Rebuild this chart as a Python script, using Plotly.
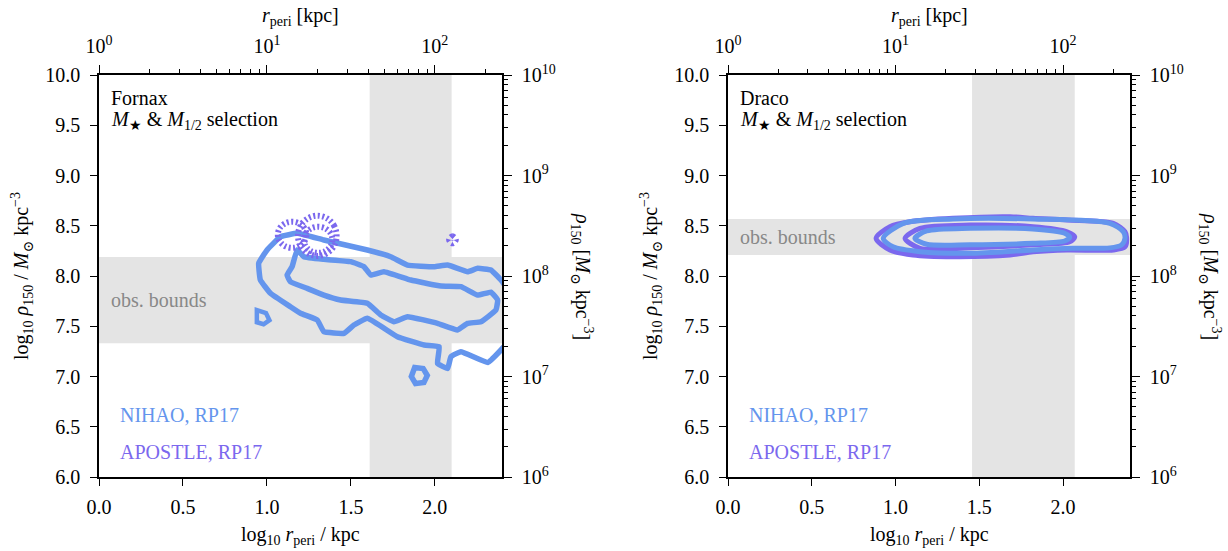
import plotly.graph_objects as go

# ---------------- data ----------------
# Fornax (left panel) – NIHAO contours (log10 r_peri, log10 rho150)
forn_nihao_outer_x = [1.18, 1.339, 1.598, 1.737, 1.837, 1.996, 2.076, 2.195, 2.255, 2.334, 2.394, 2.46, 2.46,
                      2.394, 2.315, 2.155, 2.096, 2.076, 2.016, 2.026, 1.937, 1.777, 1.598, 1.518, 1.459,
                      1.339, 1.30, 1.20, 1.14, 1.021, 0.961, 0.951, 1.001, 1.081, 1.18]
forn_nihao_outer_y = [8.425, 8.358, 8.259, 8.192, 8.109, 8.092, 8.109, 8.043, 8.076, 8.06, 7.96, 7.8, 7.4,
                      7.264, 7.14, 7.247, 7.197, 7.08, 7.13, 7.297, 7.313, 7.396, 7.579, 7.512, 7.43,
                      7.446, 7.562, 7.629, 7.694, 7.828, 7.96, 8.126, 8.259, 8.391, 8.425]
forn_nihao_inner_x = [1.18, 1.22, 1.339, 1.498, 1.578, 1.618, 1.697, 1.857, 2.036, 2.155, 2.255, 2.334, 2.374,
                      2.364, 2.275, 2.195, 2.135, 2.016, 1.837, 1.757, 1.678, 1.598, 1.439, 1.339, 1.24,
                      1.14, 1.12, 1.15, 1.18]
forn_nihao_inner_y = [8.259, 8.192, 8.166, 8.143, 8.093, 8.01, 8.043, 7.96, 7.9, 7.894, 7.81, 7.84, 7.76,
                      7.662, 7.545, 7.529, 7.463, 7.529, 7.595, 7.545, 7.612, 7.728, 7.761, 7.81, 7.877,
                      7.943, 8.01, 8.093, 8.259]
forn_nihao_blob1_x = [0.94, 0.995, 1.015, 0.98, 0.94, 0.94]
forn_nihao_blob1_y = [7.66, 7.63, 7.56, 7.52, 7.54, 7.66]
forn_nihao_blob2_x = [1.88, 1.93, 1.955, 1.935, 1.885, 1.86, 1.88]
forn_nihao_blob2_y = [7.09, 7.08, 7.01, 6.94, 6.93, 7.0, 7.09]

# Fornax – APOSTLE contours
forn_apo_ring1_x = [1.415, 1.40, 1.358, 1.30, 1.243, 1.20, 1.185, 1.20, 1.243, 1.30, 1.358, 1.40, 1.415]
forn_apo_ring1_y = [8.40, 8.50, 8.573, 8.60, 8.573, 8.50, 8.40, 8.30, 8.227, 8.20, 8.227, 8.30, 8.40]
forn_apo_ring2_x = [1.39, 1.379, 1.348, 1.305, 1.263, 1.231, 1.22, 1.231, 1.263, 1.305, 1.348, 1.379, 1.39]
forn_apo_ring2_y = [8.36, 8.425, 8.473, 8.49, 8.473, 8.425, 8.36, 8.295, 8.247, 8.23, 8.247, 8.295, 8.36]
forn_apo_ring3_x = [1.235, 1.224, 1.193, 1.15, 1.108, 1.076, 1.065, 1.076, 1.108, 1.15, 1.193, 1.224, 1.235]
forn_apo_ring3_y = [8.41, 8.475, 8.523, 8.54, 8.523, 8.475, 8.41, 8.345, 8.297, 8.28, 8.297, 8.345, 8.41]
forn_apo_dot_x = [2.125, 2.105, 2.085, 2.105, 2.125]
forn_apo_dot_y = [8.36, 8.395, 8.36, 8.325, 8.36]

# Draco (right panel)
drac_apo_outer_x = [0.884, 0.967, 1.087, 1.343, 1.684, 1.821, 2.024, 2.30, 2.37, 2.38, 2.37, 2.30, 2.024,
                    1.821, 1.684, 1.343, 1.104, 0.967, 0.884]
drac_apo_outer_y = [8.375, 8.491, 8.54, 8.574, 8.59, 8.574, 8.557, 8.524, 8.44, 8.38, 8.29, 8.259, 8.259,
                    8.24, 8.209, 8.192, 8.209, 8.259, 8.375]
drac_apo_inner_x = [1.057, 1.146, 1.445, 1.821, 2.024, 2.07, 2.04, 1.82, 1.445, 1.146, 1.057]
drac_apo_inner_y = [8.375, 8.474, 8.507, 8.49, 8.44, 8.39, 8.34, 8.31, 8.28, 8.275, 8.375]
drac_nihao_outer_x = [0.927, 1.047, 1.343, 1.821, 2.28, 2.36, 2.37, 2.35, 2.28, 2.06, 1.82, 1.445, 1.146,
                      0.985, 0.927]
drac_nihao_outer_y = [8.375, 8.524, 8.567, 8.567, 8.524, 8.44, 8.375, 8.31, 8.28, 8.275, 8.259, 8.226,
                      8.242, 8.29, 8.375]
drac_nihao_inner_x = [1.116, 1.186, 1.445, 1.82, 2.01, 2.04, 2.01, 1.82, 1.445, 1.186, 1.116]
drac_nihao_inner_y = [8.375, 8.448, 8.474, 8.468, 8.425, 8.385, 8.348, 8.325, 8.31, 8.316, 8.375]

# observational bounds
forn_rperi_bounds = [1.612, 2.10]
forn_rho_bounds = [7.33, 8.19]
drac_rperi_bounds = [1.457, 2.07]
drac_rho_bounds = [8.21, 8.567]

# tick labels
x_ticks = [0.0, 0.5, 1.0, 1.5, 2.0]
y_ticks = [6.0, 6.5, 7.0, 7.5, 8.0, 8.5, 9.0, 9.5, 10.0]
top_ticks = [1, 10, 100]
top_ticktext = ["10<sup>0</sup>", "10<sup>1</sup>", "10<sup>2</sup>"]
top_minor = [m * d for d in (1, 10, 100) for m in range(2, 10)]
right_ticks = [1e6, 1e7, 1e8, 1e9, 1e10]
right_ticktext = ["10<sup>6</sup>", "10<sup>7</sup>", "10<sup>8</sup>", "10<sup>9</sup>", "10<sup>10</sup>"]
right_minor = [m * 10 ** e for e in range(6, 10) for m in range(2, 10)]

BLUE = "#6495ED"
PURPLE = "#7B68EE"
GRAY = "#e4e4e4"
FONT = "Liberation Serif, Times New Roman, DejaVu Serif, serif"
FS = 20

W, H = 1228, 551
panels = [
    dict(x0=99, x1=502, xa="x", ya="y", xa_top="x2", ya_right="y2", name="Fornax"),
    dict(x0=728, x1=1130, xa="x3", ya="y3", xa_top="x4", ya_right="y4", name="Draco"),
]
ytop, ybot = 75, 477
ydom = [1 - ybot / H, 1 - ytop / H]

fig = go.Figure()


def line_trace(x, y, color, xa, ya, dash="solid", width=5.5, smooth=0.5):
    return go.Scatter(x=x, y=y, mode="lines", xaxis=xa, yaxis=ya,
                      line=dict(color=color, width=width, dash=dash, shape="spline", smoothing=smooth),
                      hoverinfo="skip", showlegend=False)


# Fornax
fig.add_trace(line_trace(forn_nihao_outer_x, forn_nihao_outer_y, BLUE, "x", "y", smooth=0.3))
fig.add_trace(line_trace(forn_nihao_inner_x, forn_nihao_inner_y, BLUE, "x", "y", smooth=0.3))
fig.add_trace(line_trace(forn_nihao_blob1_x, forn_nihao_blob1_y, BLUE, "x", "y", width=4.5, smooth=0))
fig.add_trace(line_trace(forn_nihao_blob2_x, forn_nihao_blob2_y, BLUE, "x", "y", smooth=0))
for rx, ry in [(forn_apo_ring1_x, forn_apo_ring1_y), (forn_apo_ring2_x, forn_apo_ring2_y),
               (forn_apo_ring3_x, forn_apo_ring3_y), (forn_apo_dot_x, forn_apo_dot_y)]:
    fig.add_trace(line_trace(rx, ry, PURPLE, "x", "y", dash="2px,2.5px", width=6, smooth=1))

# Draco
fig.add_trace(line_trace(drac_apo_outer_x, drac_apo_outer_y, PURPLE, "x3", "y3", width=5, smooth=0.8))
fig.add_trace(line_trace(drac_apo_inner_x, drac_apo_inner_y, PURPLE, "x3", "y3", width=5, smooth=0.8))
fig.add_trace(line_trace(drac_nihao_outer_x, drac_nihao_outer_y, BLUE, "x3", "y3", width=5, smooth=0.8))
fig.add_trace(line_trace(drac_nihao_inner_x, drac_nihao_inner_y, BLUE, "x3", "y3", width=5, smooth=0.8))

# invisible traces to bind overlay axes
for p in panels:
    fig.add_trace(go.Scatter(x=[10], y=[1e8], mode="markers", marker=dict(opacity=0),
                             xaxis=p["xa_top"], yaxis=p["ya_right"], hoverinfo="skip", showlegend=False))

axis_common = dict(showline=True, linecolor="black", linewidth=1.6, ticks="outside", ticklen=7,
                   tickwidth=1.4, tickcolor="black", showgrid=False, zeroline=False, automargin=False,
                   tickfont=dict(family=FONT, size=FS, color="black"))

layout = dict(width=W, height=H, margin=dict(l=0, r=0, t=0, b=0, autoexpand=False), plot_bgcolor="white",
              paper_bgcolor="white", showlegend=False, shapes=[], annotations=[])

for i, p in enumerate(panels):
    dom = [p["x0"] / W, p["x1"] / W]
    xk = "xaxis" if p["xa"] == "x" else "xaxis" + p["xa"][1:]
    yk = "yaxis" if p["ya"] == "y" else "yaxis" + p["ya"][1:]
    xtk = "xaxis" + p["xa_top"][1:]
    yrk = "yaxis" + p["ya_right"][1:]
    layout[xk] = dict(axis_common, domain=dom, anchor=p["ya"], range=[0, 2.4], tickmode="array",
                      tickvals=x_ticks, ticktext=[f"{v:.1f}" for v in x_ticks], ticklabelstandoff=4)
    layout[yk] = dict(axis_common, domain=ydom, anchor=p["xa"], range=[6, 10], tickmode="array",
                      tickvals=y_ticks, ticktext=[f"{v:.1f}" for v in y_ticks], ticklabelstandoff=6)
    layout[xtk] = dict(axis_common, overlaying=p["xa"], side="top", anchor=p["ya"], type="log",
                       range=[0, 2.4], tickmode="array", tickvals=top_ticks, ticktext=top_ticktext,
                       ticklen=8, ticklabelstandoff=4,
                       minor=dict(tickmode="array", tickvals=top_minor, ticks="outside", ticklen=4,
                                  tickwidth=1.1, tickcolor="black"))
    layout[yrk] = dict(axis_common, overlaying=p["ya"], side="right", anchor=p["xa"], type="log",
                       range=[6, 10], tickmode="array", tickvals=right_ticks, ticktext=right_ticktext,
                       ticklen=8, ticklabelstandoff=6,
                       minor=dict(tickmode="array", tickvals=right_minor, ticks="outside", ticklen=4,
                                  tickwidth=1.1, tickcolor="black"))

    rb = forn_rperi_bounds if i == 0 else drac_rperi_bounds
    db = forn_rho_bounds if i == 0 else drac_rho_bounds
    layout["shapes"].append(dict(type="rect", xref=p["xa"], yref=p["ya"], x0=rb[0], x1=rb[1], y0=6, y1=10,
                                 fillcolor=GRAY, line=dict(width=0), layer="below"))
    layout["shapes"].append(dict(type="rect", xref=p["xa"], yref=p["ya"], x0=0, x1=2.4, y0=db[0], y1=db[1],
                                 fillcolor=GRAY, line=dict(width=0), layer="below"))

    cx = (p["x0"] + p["x1"]) / 2
    f = dict(family=FONT, size=FS, color="black")
    ann = layout["annotations"]
    # axis titles
    ann.append(dict(text="log<sub>10</sub> <i>r</i><sub>peri</sub> / kpc", xref="paper", yref="paper",
                    x=cx / W, y=1 - 535 / H, showarrow=False, font=f, xanchor="center", yanchor="middle"))
    ann.append(dict(text="<i>r</i><sub>peri</sub> [kpc]", xref="paper", yref="paper",
                    x=cx / W, y=1 - 16 / H, showarrow=False, font=f, xanchor="center", yanchor="middle"))
    ann.append(dict(text="log<sub>10</sub> <i>ρ</i><sub>150</sub> / <i>M</i><sub>⊙</sub> kpc<sup>−3</sup>",
                    xref="paper", yref="paper", x=(p["x0"] - 77) / W, y=1 - 276 / H, textangle=-90,
                    showarrow=False, font=f, xanchor="center", yanchor="middle"))
    ann.append(dict(text="<i>ρ</i><sub>150</sub> [<i>M</i><sub>⊙</sub> kpc<sup>−3</sup>]",
                    xref="paper", yref="paper", x=(p["x1"] + 80) / W, y=1 - 276 / H, textangle=90,
                    showarrow=False, font=f, xanchor="center", yanchor="middle"))
    # panel text
    ann.append(dict(text=p["name"], xref="paper", yref="paper", x=(p["x0"] + 10) / W, y=1 - 98 / H,
                    showarrow=False, font=f, xanchor="left", yanchor="middle"))
    ann.append(dict(text="<i>M</i><sub>★</sub> & <i>M</i><sub>1/2</sub> selection", xref="paper",
                    yref="paper", x=(p["x0"] + 10) / W, y=1 - 120 / H,
                    showarrow=False, font=f, xanchor="left", yanchor="middle"))
    ann.append(dict(text="NIHAO, RP17", xref="paper", yref="paper", x=(p["x0"] + 19) / W, y=1 - 415 / H,
                    showarrow=False, font=dict(family=FONT, size=FS, color=BLUE),
                    xanchor="left", yanchor="middle"))
    ann.append(dict(text="APOSTLE, RP17", xref="paper", yref="paper", x=(p["x0"] + 19) / W, y=1 - 452 / H,
                    showarrow=False, font=dict(family=FONT, size=FS, color=PURPLE),
                    xanchor="left", yanchor="middle"))
    obs_y = (sum(db) / 2)
    ann.append(dict(text="obs. bounds", xref=p["xa"], yref=p["ya"], x=0.06, y=obs_y,
                    showarrow=False, font=dict(family=FONT, size=FS, color="#888888"),
                    xanchor="left", yanchor="middle"))

fig.update_layout(**layout)
fig.write_html("out.html")
